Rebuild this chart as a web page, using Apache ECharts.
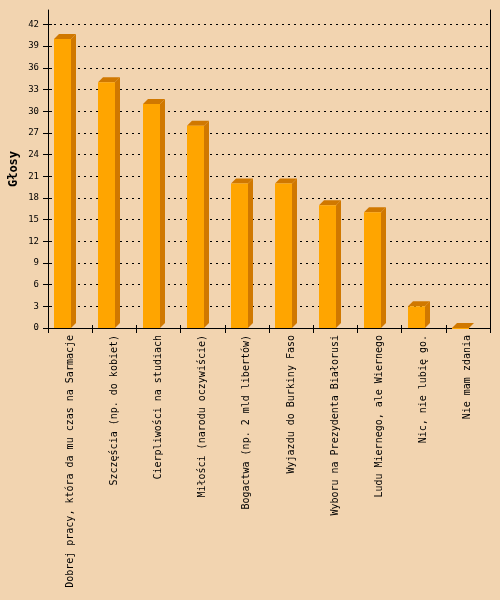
<!DOCTYPE html>
<html>
<head>
<meta charset="utf-8">
<title>Głosy</title>
<script src="https://cdn.jsdelivr.net/npm/echarts@6/dist/echarts.min.js"></script>
<style>
  html, body { margin: 0; padding: 0; background: #f2d4b0; }
  #chart { width: 500px; height: 600px; }
</style>
</head>
<body>
<div id="chart"></div>
<script>
  // answers (x axis)
  var categories = [
    'Dobrej pracy, która da mu czas na Sarmacje',
    'Szczęścia (np. do kobiet)',
    'Cierpliwości na studiach',
    'Miłości (narodu oczywiście)',
    'Bogactwa (np. 2 mld libertów)',
    'Wyjazdu do Burkiny Faso',
    'Wyboru na Prezydenta Białorusi',
    'Ludu Miernego, ale Wiernego',
    'Nic, nie lubię go.',
    'Nie mam zdania'
  ];
  // votes per answer
  var votes = [40, 34, 31, 28, 20, 20, 17, 16, 3, 0];
  // y axis
  var yMin = 0;
  var yMax = 44;
  var yStep = 3;
  var yTicks = [0, 3, 6, 9, 12, 15, 18, 21, 24, 27, 30, 33, 36, 39, 42];

  var mono = 'DejaVu Sans Mono';
  var FRONT = '#ffa500';
  var SHADE = '#d07800';

  // little 3d box: front face + right side + top
  function renderBar(params, api) {
    var idx = api.value(0);
    var base = api.coord([idx, 0]);
    var top = api.coord([idx, api.value(1)]);
    var w = 17, d = 5;
    var left = Math.round(base[0] - 16);
    var yb = base[1], yt = top[1];
    return {
      type: 'group',
      children: [
        {
          type: 'polygon',
          shape: { points: [[left + w, yt], [left + w + d, yt - d], [left + w + d, yb - d], [left + w, yb]] },
          style: { fill: SHADE }
        },
        {
          type: 'polygon',
          shape: { points: [[left, yt], [left + d, yt - d], [left + w + d, yt - d], [left + w, yt]] },
          style: { fill: SHADE }
        },
        {
          type: 'rect',
          shape: { x: left, y: yt, width: w, height: Math.max(yb - yt, 1) },
          style: { fill: FRONT }
        }
      ]
    };
  }

  var chart = echarts.init(document.getElementById('chart'));
  chart.setOption({
    backgroundColor: '#f2d4b0',
    animation: false,
    grid: { left: 48, right: 10, top: 10, bottom: 272, outerBoundsMode: 'none' },
    xAxis: [
      {
        // ticks + labels, shifted up so the ticks cross the axis line
        type: 'category',
        data: categories,
        offset: -3,
        axisLine: { show: false },
        axisTick: { show: true, length: 8, lineStyle: { color: '#000' } },
        axisLabel: {
          rotate: 90,
          margin: 10,
          interval: 0,
          color: '#000',
          fontFamily: mono,
          fontSize: 10
        },
        splitLine: { show: false }
      },
      {
        type: 'category',
        data: categories,
        position: 'bottom',
        axisLine: { show: true, lineStyle: { color: '#000', width: 1 } },
        axisTick: { show: false },
        axisLabel: { show: false }
      }
    ],
    yAxis: [
      {
        type: 'value',
        min: yMin,
        max: yMax,
        interval: yStep,
        name: 'Głosy',
        nameLocation: 'middle',
        nameGap: 28,
        nameTextStyle: { fontFamily: mono, fontWeight: 'bold', fontSize: 12, color: '#000' },
        axisLine: { show: true, lineStyle: { color: '#000' } },
        axisTick: { show: false, customValues: yTicks },
        axisLabel: { show: false, customValues: yTicks },
        splitLine: {
          show: true,
          showMinLine: false,
          lineStyle: { color: '#000', type: [2, 4], width: 1 }
        }
      },
      {
        // ticks + labels, shifted right so the ticks cross the axis line
        type: 'value',
        min: yMin,
        max: yMax,
        interval: yStep,
        position: 'left',
        offset: -4,
        axisLine: { show: false },
        axisTick: { show: true, length: 9, customValues: yTicks, lineStyle: { color: '#000' } },
        axisLabel: {
          margin: 13,
          color: '#000',
          fontFamily: mono,
          fontSize: 9,
          customValues: yTicks
        },
        splitLine: { show: false }
      },
      {
        type: 'value',
        min: yMin,
        max: yMax,
        position: 'right',
        axisLine: { show: true, lineStyle: { color: '#000' } },
        axisTick: { show: false },
        axisLabel: { show: false },
        splitLine: { show: false }
      }
    ],
    series: [
      {
        type: 'custom',
        renderItem: renderBar,
        encode: { x: 0, y: 1 },
        data: votes.map(function (v, i) { return [i, v]; }),
        z: 3
      }
    ]
  });
</script>
</body>
</html>
